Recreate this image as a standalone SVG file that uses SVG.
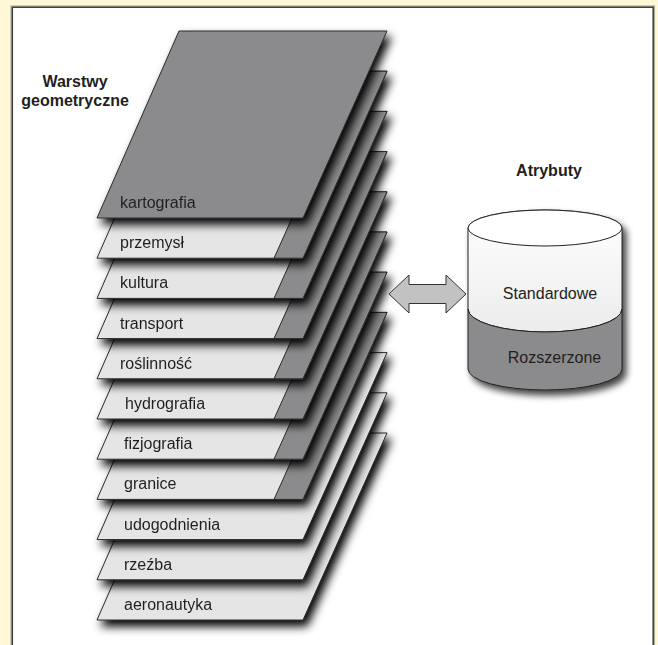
<svg xmlns="http://www.w3.org/2000/svg" xmlns:xlink="http://www.w3.org/1999/xlink" width="658" height="645" viewBox="0 0 658 645">
<style>
.light{fill:#e5e5e5;stroke:#2a2a2a;stroke-width:1}
.dark{fill:#8b8b8d;stroke:#2a2a2a;stroke-width:1}
.lbl{font-family:"Liberation Sans",Arial,sans-serif;font-size:16px;fill:#231f20}
.hd{font-family:"Liberation Sans",Arial,sans-serif;font-size:16px;font-weight:bold;fill:#231f20;text-anchor:middle}
.mid{text-anchor:middle}
</style>
<defs>
<polygon id="sheet" points="97,218 179,31 387,31 303,218"/>
<polygon id="band" points="274,218 303,218 387,31 358,31"/>
<filter id="sh" x="-15%" y="-15%" width="140%" height="140%">
<feGaussianBlur in="SourceAlpha" stdDeviation="5"/>
<feOffset dx="4" dy="6"/>
<feComponentTransfer><feFuncA type="linear" slope="1"/></feComponentTransfer>
<feMerge><feMergeNode/><feMergeNode in="SourceGraphic"/></feMerge>
</filter>
<filter id="sh2" x="-15%" y="-15%" width="140%" height="140%">
<feGaussianBlur in="SourceAlpha" stdDeviation="3.5"/>
<feOffset dx="4" dy="5"/>
<feComponentTransfer><feFuncA type="linear" slope="0.75"/></feComponentTransfer>
<feMerge><feMergeNode/><feMergeNode in="SourceGraphic"/></feMerge>
</filter>
<linearGradient id="wg" x1="0" y1="0" x2="0" y2="1">
<stop offset="0" stop-color="#ffffff"/>
<stop offset="1" stop-color="#ececec"/>
</linearGradient>
</defs>
<rect width="658" height="645" fill="#fff8d6"/>
<rect x="11" y="6" width="643.5" height="700" fill="none" stroke="#b3b09a" stroke-width="1.2"/>
<rect x="12.3" y="7.2" width="640.9" height="700" fill="#ffffff" stroke="#3a3a3a" stroke-width="1.5"/>

<g id="heading-warstwy">
<text class="hd" x="75" y="87">Warstwy</text>
<text class="hd" x="75" y="106">geometryczne</text>
</g>

<g id="layer-aeronautyka" transform="translate(0,402)" filter="url(#sh)">
<use xlink:href="#sheet" class="light"/>
<text class="lbl" x="124" y="208">aeronautyka</text>
</g>
<g id="layer-rzezba" transform="translate(0,361.8)" filter="url(#sh)">
<use xlink:href="#sheet" class="light"/>
<text class="lbl" x="124" y="208">rzeźba</text>
</g>
<g id="layer-udogodnienia" transform="translate(0,321.6)" filter="url(#sh)">
<use xlink:href="#sheet" class="light"/>
<text class="lbl" x="124" y="208">udogodnienia</text>
</g>
<g id="layer-granice" transform="translate(0,281.4)" filter="url(#sh)">
<use xlink:href="#sheet" class="light"/>
<use xlink:href="#band" class="dark"/>
<text class="lbl" x="124" y="208">granice</text>
</g>
<g id="layer-fizjografia" transform="translate(0,241.2)" filter="url(#sh)">
<use xlink:href="#sheet" class="light"/>
<use xlink:href="#band" class="dark"/>
<text class="lbl" x="124" y="208">fizjografia</text>
</g>
<g id="layer-hydrografia" transform="translate(0,201)" filter="url(#sh)">
<use xlink:href="#sheet" class="light"/>
<use xlink:href="#band" class="dark"/>
<text class="lbl" x="125" y="208">hydrografia</text>
</g>
<g id="layer-roslinnosc" transform="translate(0,160.8)" filter="url(#sh)">
<use xlink:href="#sheet" class="light"/>
<use xlink:href="#band" class="dark"/>
<text class="lbl" x="120" y="208">roślinność</text>
</g>
<g id="layer-transport" transform="translate(0,120.6)" filter="url(#sh)">
<use xlink:href="#sheet" class="light"/>
<use xlink:href="#band" class="dark"/>
<text class="lbl" x="120" y="208">transport</text>
</g>
<g id="layer-kultura" transform="translate(0,80.4)" filter="url(#sh)">
<use xlink:href="#sheet" class="light"/>
<use xlink:href="#band" class="dark"/>
<text class="lbl" x="120" y="208">kultura</text>
</g>
<g id="layer-przemysl" transform="translate(0,40.2)" filter="url(#sh)">
<use xlink:href="#sheet" class="light"/>
<use xlink:href="#band" class="dark"/>
<text class="lbl" x="120" y="208">przemysł</text>
</g>
<g id="layer-kartografia" filter="url(#sh)">
<use xlink:href="#sheet" class="dark"/>
<text class="lbl" x="120" y="208">kartografia</text>
</g>

<g id="connectors">
<polygon points="389,294 409,275 409,284.5 446,284.5 446,275 466,294 446,313 446,303.5 409,303.5 409,313" fill="#c2c2c2" stroke="#333" stroke-width="1"/>
</g>

<g id="atrybuty">
<text class="hd" x="549" y="176">Atrybuty</text>
<g filter="url(#sh2)">
<path d="M468,228 L468,309 A77,23 0 0 0 622,309 L622,228 A77,18 0 0 0 468,228 Z" fill="url(#wg)" stroke="#222" stroke-width="1"/>
<path d="M468,309 A77,23 0 0 0 622,309 L622,369 A77,21 0 0 1 468,369 Z" fill="#8b8b8d" stroke="#222" stroke-width="1"/>
<ellipse cx="545" cy="228" rx="77" ry="18" fill="#ffffff" stroke="#222" stroke-width="1"/>
</g>
<text class="lbl mid" x="550" y="299">Standardowe</text>
<text class="lbl mid" x="554.5" y="362.5">Rozszerzone</text>
</g>
</svg>
